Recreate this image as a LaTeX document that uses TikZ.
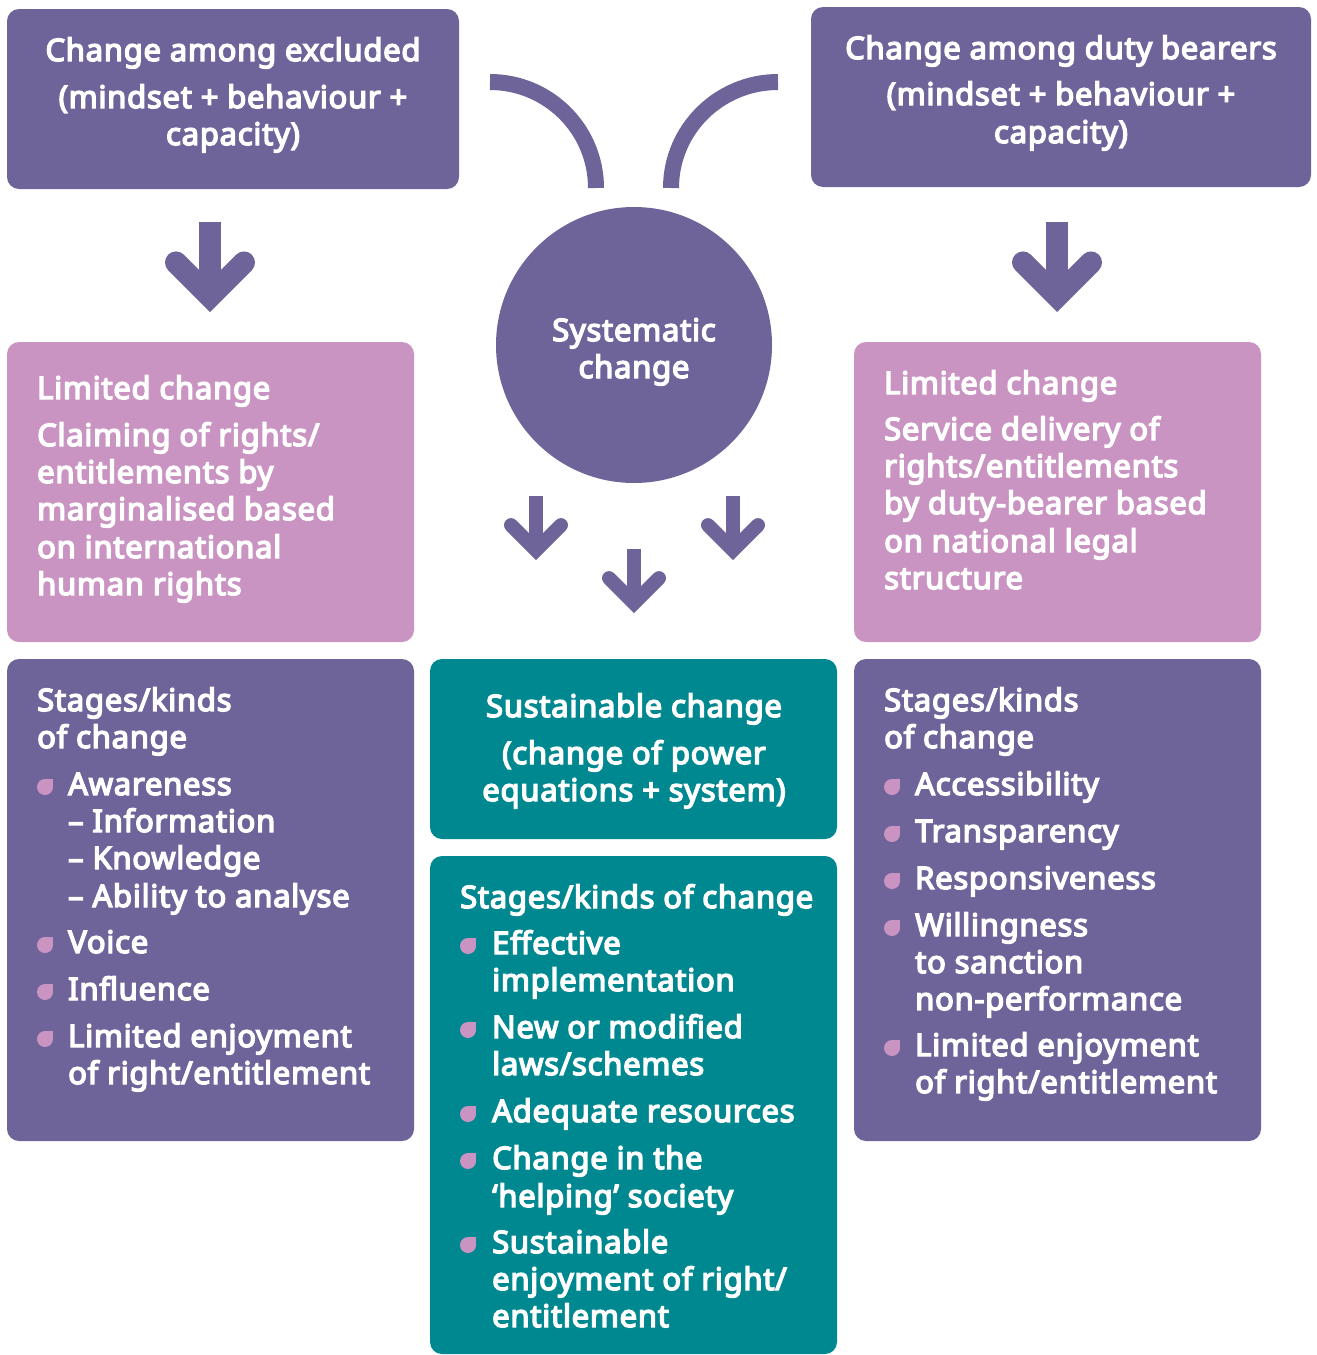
\documentclass[tikz,border=0pt]{standalone}
\usepackage{fontspec}
\setmainfont{Noto Sans}[BoldFont={Noto Sans},BoldFeatures={FakeBold=4.6,LetterSpace=2.4}]
\definecolor{pur}{HTML}{6F649A}
\definecolor{pnk}{HTML}{CA94C2}
\definecolor{tea}{HTML}{008891}
\newcommand\fs{\fontsize{31}{37.5}\selectfont\bfseries}
\newcommand\tl[4]{\node[txt,anchor=base west] (#1) at (#2,#3) {#4};}
\newcommand\tc[4]{\node[txt,anchor=base] (#1) at (#2,#3) {#4};}
\newcommand\leafbul[2]{\fill[pnk] (#1,#2) circle[radius=8pt]; \fill[pnk] (#1,#2-8) rectangle (#1+8,#2);}
\newcommand\dnarrow[5]{%
  \pgfmathsetmacro\vv{#3-0.7071*#4}%
  \draw[pur,line width=#4pt] (#1,#2) -- (#1,\vv);
  \draw[pur,line width=#4pt,line cap=round,line join=miter] (#1-#5,\vv-#5) -- (#1,\vv) -- (#1+#5,\vv-#5);}
\begin{document}
\begin{tikzpicture}[x=1pt,y=-1pt,
  txt/.style={text=white,font=\fs,inner sep=0pt},
  boxs/.style={rounded corners=12pt,inner sep=0pt}]
\useasboundingbox (0,0) rectangle (1317,1355);
% boxes
\fill[pur,boxs] (7,9) rectangle (459,189);
\fill[pur,boxs] (811,7) rectangle (1311,187);
\fill[pnk,boxs] (7,342) rectangle (414,642);
\fill[pnk,boxs] (854,342) rectangle (1261,642);
\fill[pur,boxs] (7,659) rectangle (414,1141);
\fill[pur,boxs] (854,659) rectangle (1261,1141);
\fill[tea,boxs] (430,659) rectangle (837,839);
\fill[tea,boxs] (430,856) rectangle (837,1354);
% circle
\node[circle,fill=pur,minimum size=276pt,inner sep=0pt] (sys) at (634,345) {};
% arcs
\draw[pur,line width=16pt] (490,82) .. controls (548.5,82) and (596,129.5) .. (596,188);
\draw[pur,line width=16pt] (778,82) .. controls (719,82) and (671,129.5) .. (671,188);
% arrows
\dnarrow{210}{222}{312}{22}{34}
\dnarrow{1057}{222}{312}{22}{34}
\dnarrow{536}{496}{560}{14}{25}
\dnarrow{634}{549}{613}{14}{25}
\dnarrow{733}{496}{560}{14}{25}
% top texts
\tc{a1}{233}{61}{Change among excluded}
\tc{a2}{233}{108}{(mindset + behaviour +}
\tc{a3}{233}{145}{capacity)}
\tc{b1}{1061}{59}{Change among duty bearers}
\tc{b2}{1061}{105}{(mindset + behaviour +}
\tc{b3}{1061}{143}{capacity)}
\tc{c1}{634}{341}{Systematic}
\tc{c2}{634}{378}{change}
% pink left
\tl{d1}{37}{399}{Limited change}
\tl{d2}{37}{446}{Claiming of rights/}
\tl{d3}{37}{483}{entitlements by}
\tl{d4}{37}{520}{marginalised based}
\tl{d5}{37}{558}{on international}
\tl{d6}{37}{595}{human rights}
% pink right
\tl{e1}{884}{394}{Limited change}
\tl{e2}{884}{440}{Service delivery of}
\tl{e3}{884}{477}{rights/entitlements}
\tl{e4}{884}{514}{by duty-bearer based}
\tl{e5}{884}{552}{on national legal}
\tl{e6}{884}{589}{structure}
% left bottom
\tl{f1}{37}{711}{Stages/kinds}
\tl{f2}{37}{748}{of change}
\tl{f3}{68}{795}{Awareness}
\tl{f4}{68}{832}{– Information}
\tl{f5}{68}{869}{– Knowledge}
\tl{f6}{68}{907}{– Ability to analyse}
\tl{f7}{68}{953}{Voice}
\tl{f8}{68}{1000}{Influence}
\tl{f9}{68}{1047}{Limited enjoyment}
\tl{f10}{68}{1084}{of right/entitlement}
\leafbul{45}{787}\leafbul{45}{945}\leafbul{45}{992}\leafbul{45}{1039}
% teal top
\tc{g1}{634}{717}{Sustainable change}
\tc{g2}{634}{764}{(change of power}
\tc{g3}{634}{801}{equations + system)}
% teal bottom
\tl{h1}{460}{908}{Stages/kinds of change}
\tl{h2}{492}{954}{Effective}
\tl{h3}{492}{991}{implementation}
\tl{h4}{492}{1038}{New or modified}
\tl{h5}{492}{1075}{laws/schemes}
\tl{h6}{492}{1122}{Adequate resources}
\tl{h7}{492}{1169}{Change in the}
\tl{h8}{492}{1207}{‘helping’ society}
\tl{h9}{492}{1253}{Sustainable}
\tl{h10}{492}{1290}{enjoyment of right/}
\tl{h11}{492}{1327}{entitlement}
\leafbul{468}{946}\leafbul{468}{1030}\leafbul{468}{1114}\leafbul{468}{1161}\leafbul{468}{1245}
% right bottom
\tl{i1}{884}{711}{Stages/kinds}
\tl{i2}{884}{748}{of change}
\tl{i3}{915}{795}{Accessibility}
\tl{i4}{915}{842}{Transparency}
\tl{i5}{915}{889}{Responsiveness}
\tl{i6}{915}{936}{Willingness}
\tl{i7}{915}{973}{to sanction}
\tl{i8}{915}{1010}{non-performance}
\tl{i9}{915}{1056}{Limited enjoyment}
\tl{i10}{915}{1093}{of right/entitlement}
\leafbul{892}{787}\leafbul{892}{834}\leafbul{892}{881}\leafbul{892}{928}\leafbul{892}{1048}
\end{tikzpicture}
\end{document}
